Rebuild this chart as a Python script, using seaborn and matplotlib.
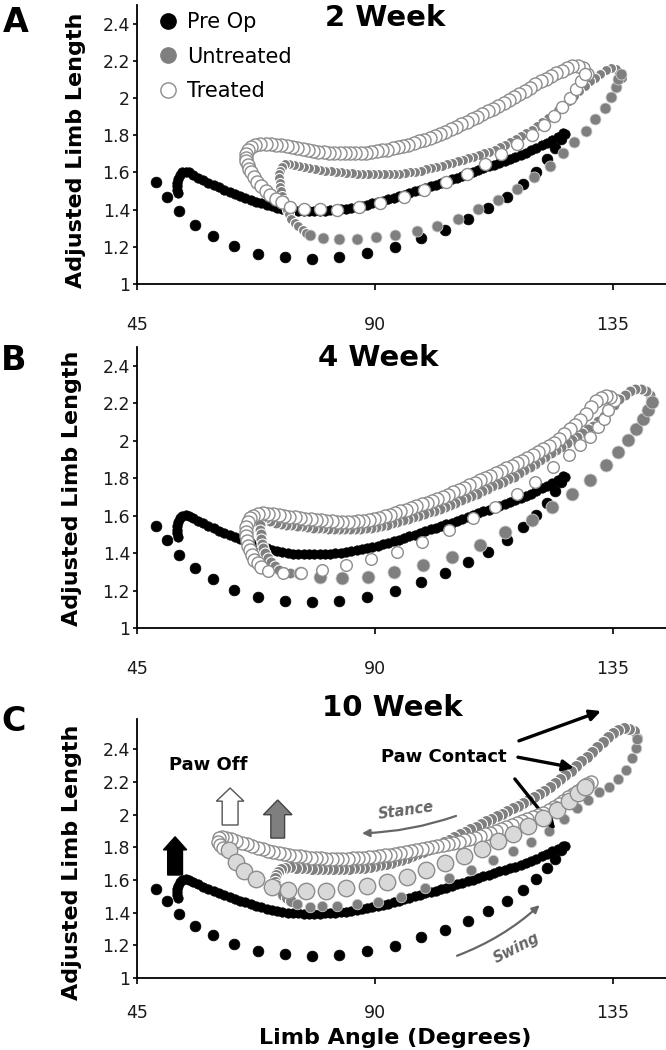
import matplotlib
matplotlib.use("Agg")
import matplotlib.pyplot as plt
from matplotlib.lines import Line2D
from matplotlib.patches import FancyArrow
from matplotlib.ticker import FuncFormatter
import seaborn as sns

# ---------------- data (limb angle, adjusted limb length) ----------------
y_ticks = [1, 1.2, 1.4, 1.6, 1.8, 2, 2.2, 2.4]
x_ticks = [45, 90, 135]
week_titles = ["2 Week", "4 Week", "10 Week"]
panel_letters = ["A", "B", "C"]
legend_labels = ["Pre Op", "Untreated", "Treated"]

# Pre Op (same trace in all three panels)
pre_swing = [(48.6, 1.547), (50.6, 1.47), (53.0, 1.39), (55.9, 1.32), (59.4, 1.26), (63.3, 1.205),
             (67.9, 1.163), (72.9, 1.145), (78.0, 1.137), (83.2, 1.143), (88.4, 1.165), (93.7, 1.198),
             (98.6, 1.248), (103.2, 1.292), (107.5, 1.35), (111.4, 1.408), (114.9, 1.47), (117.9, 1.54),
             (120.4, 1.605), (122.5, 1.67), (124.1, 1.73), (125.2, 1.78)]
pre_stance = [(125.9, 1.805), (125.5, 1.81), (124.5, 1.79), (123.5, 1.775), (122.5, 1.76), (121.5, 1.745),
              (120.5, 1.73), (119.5, 1.718), (118.5, 1.705), (117.5, 1.693), (116.5, 1.682), (115.5, 1.672),
              (114.5, 1.662), (113.5, 1.652), (112.5, 1.642), (111.5, 1.632), (110.5, 1.622), (109.5, 1.612),
              (108.5, 1.602), (107.5, 1.592), (106.5, 1.582), (105.5, 1.572), (104.5, 1.562), (103.5, 1.553),
              (102.5, 1.544), (101.5, 1.535), (100.5, 1.526), (99.5, 1.517), (98.5, 1.508), (97.5, 1.499),
              (96.5, 1.49), (95.5, 1.481), (94.5, 1.472), (93.5, 1.463), (92.5, 1.455), (91.5, 1.447),
              (90.5, 1.44), (89.5, 1.433), (88.5, 1.426), (87.5, 1.42), (86.5, 1.415), (85.5, 1.41),
              (84.5, 1.406), (83.5, 1.402), (82.5, 1.399), (81.5, 1.397), (80.5, 1.395), (79.5, 1.394),
              (78.5, 1.393), (77.5, 1.393), (76.5, 1.394), (75.5, 1.395), (74.5, 1.397), (73.5, 1.40),
              (72.5, 1.405), (71.5, 1.41), (70.5, 1.418), (69.5, 1.425), (68.5, 1.433), (67.5, 1.442),
              (66.5, 1.452), (65.5, 1.462), (64.5, 1.473), (63.5, 1.484), (62.5, 1.495), (61.5, 1.507),
              (60.5, 1.519), (59.5, 1.532), (58.5, 1.545), (57.5, 1.558), (56.5, 1.572), (55.5, 1.588),
              (54.8, 1.60), (54.2, 1.605), (53.6, 1.60), (53.1, 1.585), (52.7, 1.565), (52.5, 1.545),
              (52.5, 1.525), (52.6, 1.505), (52.8, 1.488)]

# 2 week
wk2_untreated_stance = [(136.6, 2.11), (136.2, 2.14), (135.5, 2.155), (134.6, 2.16), (133.6, 2.15), (132.6, 2.13),
                        (131.6, 2.11), (130.6, 2.09), (129.6, 2.065), (128.6, 2.04), (127.6, 2.012), (126.6, 1.985),
                        (125.6, 1.96), (124.6, 1.935), (123.6, 1.91), (122.6, 1.89), (121.6, 1.87), (120.6, 1.85),
                        (119.6, 1.83), (118.6, 1.812), (117.6, 1.795), (116.6, 1.778), (115.6, 1.762), (114.6, 1.748),
                        (113.6, 1.735), (112.6, 1.723), (111.6, 1.712), (110.6, 1.702), (109.6, 1.693), (108.6, 1.684),
                        (107.6, 1.675), (106.6, 1.667), (105.6, 1.659), (104.6, 1.651), (103.6, 1.643), (102.6, 1.636),
                        (101.6, 1.629), (100.6, 1.622), (99.6, 1.616), (98.6, 1.61), (97.6, 1.605), (96.6, 1.60),
                        (95.6, 1.597), (94.6, 1.594), (93.6, 1.592), (92.6, 1.59), (91.6, 1.589), (90.6, 1.589),
                        (89.6, 1.589), (88.6, 1.59), (87.6, 1.591), (86.6, 1.593), (85.6, 1.595), (84.6, 1.597),
                        (83.6, 1.60), (82.6, 1.603), (81.6, 1.606), (80.6, 1.61), (79.6, 1.614), (78.6, 1.618),
                        (77.6, 1.623), (76.6, 1.628), (75.6, 1.634), (74.6, 1.64), (73.7, 1.645), (73.0, 1.643),
                        (72.5, 1.63), (72.1, 1.61), (71.9, 1.59), (71.9, 1.57), (72.0, 1.545), (72.1, 1.52),
                        (72.3, 1.50), (72.5, 1.475), (72.7, 1.45), (73.0, 1.425), (73.3, 1.40), (73.7, 1.375),
                        (74.2, 1.352), (74.8, 1.33), (75.5, 1.31), (76.3, 1.29), (77.0, 1.275)]
wk2_untreated_swing = [(77.7, 1.262), (80.2, 1.25), (83.1, 1.242), (86.6, 1.242), (90.1, 1.252), (93.8, 1.262),
                       (97.9, 1.287), (101.8, 1.31), (105.7, 1.351), (109.5, 1.403), (113.3, 1.454), (116.9, 1.512),
                       (120.1, 1.578), (123.1, 1.637), (125.5, 1.702), (127.7, 1.765), (129.8, 1.825), (131.6, 1.886),
                       (133.4, 1.945), (134.6, 2.007), (135.5, 2.06), (136.0, 2.10), (136.4, 2.13)]
wk2_treated_stance = [(130.0, 2.13), (129.3, 2.16), (128.3, 2.17), (127.3, 2.17), (126.3, 2.16), (125.3, 2.148),
                      (124.3, 2.135), (123.3, 2.12), (122.3, 2.105), (121.3, 2.09), (120.3, 2.073), (119.3, 2.056),
                      (118.3, 2.04), (117.3, 2.023), (116.3, 2.006), (115.3, 1.99), (114.3, 1.973), (113.3, 1.957),
                      (112.3, 1.942), (111.3, 1.928), (110.3, 1.914), (109.3, 1.90), (108.3, 1.886), (107.3, 1.872),
                      (106.3, 1.858), (105.3, 1.845), (104.3, 1.832), (103.3, 1.82), (102.3, 1.808), (101.3, 1.797),
                      (100.3, 1.786), (99.3, 1.776), (98.3, 1.767), (97.3, 1.758), (96.3, 1.75), (95.3, 1.742),
                      (94.3, 1.735), (93.3, 1.729), (92.3, 1.723), (91.3, 1.718), (90.3, 1.714), (89.3, 1.71),
                      (88.3, 1.707), (87.3, 1.705), (86.3, 1.703), (85.3, 1.702), (84.3, 1.702), (83.3, 1.703),
                      (82.3, 1.704), (81.3, 1.706), (80.3, 1.709), (79.3, 1.712), (78.3, 1.716), (77.3, 1.72),
                      (76.3, 1.725), (75.3, 1.73), (74.3, 1.735), (73.3, 1.74), (72.3, 1.745), (71.3, 1.75),
                      (70.3, 1.753), (69.3, 1.755), (68.3, 1.755), (67.4, 1.75), (66.6, 1.738), (66.0, 1.72),
                      (65.7, 1.70), (65.6, 1.68), (65.7, 1.66), (65.9, 1.64), (66.2, 1.62), (66.6, 1.60),
                      (67.1, 1.575), (67.7, 1.55), (68.4, 1.525), (69.3, 1.50), (70.2, 1.478), (71.2, 1.458),
                      (72.4, 1.44)]
wk2_treated_swing = [(73.9, 1.412), (76.5, 1.402), (79.6, 1.402), (82.8, 1.398), (86.9, 1.412), (91.0, 1.434),
                     (95.4, 1.467), (99.3, 1.503), (103.5, 1.547), (107.3, 1.592), (110.8, 1.646), (113.9, 1.699),
                     (116.9, 1.753), (119.7, 1.803), (121.9, 1.855), (123.8, 1.904), (125.4, 1.953), (126.8, 2.0),
                     (128.0, 2.047), (129.0, 2.09), (129.6, 2.13)]

# 4 week
wk4_untreated_stance = [(142.0, 2.245), (141.2, 2.265), (140.2, 2.275), (139.2, 2.275), (138.2, 2.265), (137.2, 2.245),
                        (136.2, 2.22), (135.2, 2.19), (134.2, 2.16), (133.2, 2.13), (132.2, 2.105), (131.2, 2.08),
                        (130.2, 2.06), (129.2, 2.04), (128.2, 2.022), (127.2, 2.004), (126.2, 1.986), (125.2, 1.968),
                        (124.2, 1.95), (123.2, 1.932), (122.2, 1.914), (121.2, 1.896), (120.2, 1.878), (119.2, 1.86),
                        (118.2, 1.842), (117.2, 1.825), (116.2, 1.808), (115.2, 1.795), (114.2, 1.782), (113.2, 1.769),
                        (112.2, 1.756), (111.2, 1.743), (110.2, 1.73), (109.2, 1.718), (108.2, 1.706), (107.2, 1.694),
                        (106.2, 1.682), (105.2, 1.67), (104.2, 1.658), (103.2, 1.646), (102.2, 1.636), (101.2, 1.627),
                        (100.2, 1.618), (99.2, 1.609), (98.2, 1.60), (97.2, 1.592), (96.2, 1.584), (95.2, 1.576),
                        (94.2, 1.568), (93.2, 1.56), (92.2, 1.552), (91.2, 1.545), (90.2, 1.539), (89.2, 1.535),
                        (88.2, 1.532), (87.2, 1.53), (86.2, 1.529), (85.2, 1.528), (84.2, 1.528), (83.2, 1.528),
                        (82.2, 1.529), (81.2, 1.53), (80.2, 1.532), (79.2, 1.534), (78.2, 1.536), (77.2, 1.539),
                        (76.2, 1.542), (75.2, 1.545), (74.2, 1.548), (73.2, 1.552), (72.2, 1.557), (71.2, 1.563),
                        (70.2, 1.572), (69.4, 1.585), (68.8, 1.59), (68.4, 1.575), (68.3, 1.55), (68.3, 1.525),
                        (68.4, 1.50), (68.5, 1.475), (68.6, 1.45), (68.9, 1.425), (69.2, 1.40), (69.7, 1.375),
                        (70.3, 1.35), (71.0, 1.33), (71.9, 1.312), (72.9, 1.30), (74.0, 1.293)]
wk4_untreated_swing = [(75.8, 1.292), (79.6, 1.274), (83.7, 1.265), (88.6, 1.274), (93.6, 1.30), (99.1, 1.336),
                       (104.5, 1.38), (109.8, 1.443), (114.6, 1.514), (119.6, 1.576), (123.4, 1.647), (127.2, 1.718),
                       (130.6, 1.789), (133.7, 1.869), (135.9, 1.94), (137.8, 2.003), (139.4, 2.065), (140.7, 2.118),
                       (141.6, 2.163), (142.3, 2.207)]
wk4_treated_stance = [(135.2, 2.215), (134.5, 2.235), (133.6, 2.24), (132.7, 2.23), (131.8, 2.21), (130.8, 2.18),
                      (129.8, 2.145), (128.8, 2.11), (127.8, 2.085), (126.8, 2.06), (125.8, 2.035), (124.8, 2.01),
                      (123.8, 1.99), (122.8, 1.97), (121.8, 1.953), (120.8, 1.937), (119.8, 1.921), (118.8, 1.906),
                      (117.8, 1.892), (116.8, 1.879), (115.8, 1.866), (114.8, 1.853), (113.8, 1.84), (112.8, 1.827),
                      (111.8, 1.814), (110.8, 1.801), (109.8, 1.789), (108.8, 1.776), (107.8, 1.763), (106.8, 1.75),
                      (105.8, 1.737), (104.8, 1.724), (103.8, 1.711), (102.8, 1.70), (101.8, 1.69), (100.8, 1.68),
                      (99.8, 1.67), (98.8, 1.66), (97.8, 1.65), (96.8, 1.64), (95.8, 1.631), (94.8, 1.622),
                      (93.8, 1.613), (92.8, 1.604), (91.8, 1.596), (90.8, 1.588), (89.8, 1.582), (88.8, 1.577),
                      (87.8, 1.573), (86.8, 1.57), (85.8, 1.568), (84.8, 1.567), (83.8, 1.567), (82.8, 1.568),
                      (81.8, 1.57), (80.8, 1.572), (79.8, 1.575), (78.8, 1.578), (77.8, 1.581), (76.8, 1.584),
                      (75.8, 1.587), (74.8, 1.59), (73.8, 1.594), (72.8, 1.598), (71.8, 1.602), (70.8, 1.606),
                      (69.8, 1.61), (68.8, 1.612), (67.8, 1.61), (67.0, 1.60), (66.3, 1.585), (65.9, 1.565),
                      (65.7, 1.54), (65.6, 1.515), (65.7, 1.49), (65.8, 1.465), (66.0, 1.44), (66.3, 1.415),
                      (66.7, 1.39), (67.2, 1.365), (67.8, 1.345), (68.5, 1.325)]
wk4_treated_swing = [(69.7, 1.305), (72.6, 1.296), (76.0, 1.296), (79.9, 1.311), (84.6, 1.334), (89.2, 1.369),
                     (94.1, 1.407), (98.9, 1.46), (103.9, 1.523), (108.6, 1.585), (112.7, 1.647), (116.8, 1.718),
                     (120.2, 1.78), (123.7, 1.86), (126.6, 1.923), (128.8, 1.976), (130.6, 2.02), (132.2, 2.074),
                     (133.2, 2.118), (134.1, 2.163)]

# 10 week
wk10_untreated_stance = [(139.6, 2.47), (139.0, 2.51), (138.0, 2.525), (137.0, 2.53), (136.0, 2.52), (135.0, 2.50),
                         (134.0, 2.475), (133.0, 2.445), (132.0, 2.415), (131.0, 2.385), (130.0, 2.355), (129.0, 2.325),
                         (128.0, 2.295), (127.0, 2.265), (126.0, 2.24), (125.0, 2.215), (124.0, 2.19), (123.0, 2.168),
                         (122.0, 2.146), (121.0, 2.125), (120.0, 2.105), (119.0, 2.087), (118.0, 2.07), (117.0, 2.054),
                         (116.0, 2.038), (115.0, 2.022), (114.0, 2.006), (113.0, 1.99), (112.0, 1.974), (111.0, 1.958),
                         (110.0, 1.942), (109.0, 1.926), (108.0, 1.91), (107.0, 1.894), (106.0, 1.878), (105.0, 1.862),
                         (104.0, 1.846), (103.0, 1.83), (102.0, 1.815), (101.0, 1.80), (100.0, 1.786), (99.0, 1.772),
                         (98.0, 1.759), (97.0, 1.747), (96.0, 1.735), (95.0, 1.724), (94.0, 1.714), (93.0, 1.705),
                         (92.0, 1.697), (91.0, 1.69), (90.0, 1.684), (89.0, 1.679), (88.0, 1.675), (87.0, 1.672),
                         (86.0, 1.67), (85.0, 1.668), (84.0, 1.667), (83.0, 1.666), (82.0, 1.666), (81.0, 1.666),
                         (80.0, 1.667), (79.0, 1.668), (78.0, 1.669), (77.0, 1.67), (76.0, 1.672), (75.0, 1.674),
                         (74.0, 1.676), (73.0, 1.675), (72.2, 1.665), (71.6, 1.65), (71.2, 1.63), (71.0, 1.61),
                         (71.0, 1.59), (71.2, 1.57), (71.5, 1.55), (72.0, 1.53), (72.6, 1.51), (73.3, 1.49),
                         (74.1, 1.47)]
wk10_untreated_swing = [(75.2, 1.45), (77.7, 1.437), (80.0, 1.44), (82.8, 1.44), (86.5, 1.45), (90.6, 1.467),
                        (95.0, 1.495), (99.5, 1.548), (103.9, 1.61), (108.2, 1.66), (112.3, 1.72), (116.0, 1.775),
                        (119.5, 1.83), (122.9, 1.90), (125.8, 1.975), (128.2, 2.04), (130.3, 2.09), (132.3, 2.135),
                        (134.2, 2.17), (135.9, 2.215), (137.4, 2.27), (138.6, 2.345), (139.3, 2.41), (139.6, 2.46)]
wk10_treated_stance = [(130.8, 2.20), (130.0, 2.185), (129.2, 2.165), (128.3, 2.145), (127.4, 2.125), (126.5, 2.105),
                       (125.6, 2.085), (124.7, 2.065), (123.8, 2.045), (122.8, 2.025), (121.8, 2.008), (120.8, 1.995),
                       (119.8, 1.982), (118.8, 1.97), (117.8, 1.958), (116.8, 1.946), (115.8, 1.934), (114.8, 1.922),
                       (113.8, 1.91), (112.8, 1.899), (111.8, 1.888), (110.8, 1.878), (109.8, 1.868), (108.8, 1.859),
                       (107.8, 1.85), (106.8, 1.842), (105.8, 1.834), (104.8, 1.826), (103.8, 1.819), (102.8, 1.812),
                       (101.8, 1.806), (100.8, 1.80), (99.8, 1.794), (98.8, 1.788), (97.8, 1.782), (96.8, 1.776),
                       (95.8, 1.77), (94.8, 1.765), (93.8, 1.76), (92.8, 1.755), (91.8, 1.75), (90.8, 1.746),
                       (89.8, 1.742), (88.8, 1.739), (87.8, 1.736), (86.8, 1.734), (85.8, 1.732), (84.8, 1.731),
                       (83.8, 1.73), (82.8, 1.73), (81.8, 1.73), (80.8, 1.731), (79.8, 1.732), (78.8, 1.734),
                       (77.8, 1.737), (76.8, 1.74), (75.8, 1.744), (74.8, 1.748), (73.8, 1.753), (72.8, 1.758),
                       (71.8, 1.764), (70.8, 1.771), (69.8, 1.779), (68.8, 1.788), (67.8, 1.798), (66.8, 1.808),
                       (65.8, 1.818), (64.8, 1.828), (63.8, 1.838), (62.8, 1.848), (61.9, 1.856), (61.1, 1.862),
                       (60.5, 1.855), (60.3, 1.835), (60.6, 1.812), (61.3, 1.795)]
wk10_treated_swing = [(62.3, 1.78), (63.7, 1.71), (65.3, 1.655), (67.5, 1.605), (70.5, 1.558), (73.5, 1.538),
                      (77.0, 1.53), (80.7, 1.533), (84.5, 1.549), (88.4, 1.564), (92.2, 1.585), (96.0, 1.62),
                      (99.7, 1.662), (103.3, 1.704), (106.8, 1.748), (110.3, 1.79), (113.3, 1.836), (116.1, 1.88),
                      (119.0, 1.93), (121.8, 1.98), (124.4, 2.03), (126.6, 2.08), (128.3, 2.13), (129.6, 2.17)]

# ---------------- styling ----------------
sns.set_theme(style="white")
plt.rcParams["font.family"] = ["DejaVu Sans"]
plt.rcParams["text.color"] = "black"

GRAY = "#7f7f7f"
RING = "#8c8c8c"
LIGHT = "#d9d9d9"


def dots(ax, pts, size, face, edge, lw, z):
    xs = [p[0] for p in pts]
    ys = [p[1] for p in pts]
    sns.scatterplot(x=xs, y=ys, ax=ax, s=size, color=face, edgecolor=edge,
                    linewidth=lw, zorder=z, legend=False)


def style_axis(ax, ytop, xpad):
    ax.set_xlim(45, 145)
    ax.set_ylim(1, ytop)
    ax.set_xticks(x_ticks)
    ax.set_yticks(y_ticks)
    ax.yaxis.set_major_formatter(FuncFormatter(lambda v, _: f"{v:g}"))
    for s in ["top", "right"]:
        ax.spines[s].set_visible(False)
    for s in ["left", "bottom"]:
        ax.spines[s].set_color("black")
        ax.spines[s].set_linewidth(1.3)
    ax.tick_params(axis="x", bottom=True, direction="out", length=4, width=1.2,
                   pad=xpad, labelsize=12.5, colors="black", labelcolor="#1a1a1a")
    ax.tick_params(axis="y", left=True, direction="out", length=3, width=1.2,
                   pad=2, labelsize=12.5, colors="black", labelcolor="#1a1a1a")
    ax.set_xlabel("")
    ax.set_ylabel("")


fig = plt.figure(figsize=(6.66, 10.5), dpi=100)
ax_a = fig.add_axes([0.2057, 0.7295, 0.7943, 0.2657])
ax_b = fig.add_axes([0.2057, 0.4019, 0.7943, 0.2676])
ax_c = fig.add_axes([0.2057, 0.0686, 0.7943, 0.2467])

for ax in (ax_a, ax_b, ax_c):
    dots(ax, pre_stance, 46, "black", "black", 0.5, 2)
    dots(ax, pre_swing, 60, "black", "black", 0.5, 2)

# 2 week
dots(ax_a, wk2_untreated_stance, 52, GRAY, "white", 0.8, 3)
dots(ax_a, wk2_untreated_swing, 63, GRAY, "#cfcfcf", 0.6, 3)
dots(ax_a, wk2_treated_stance, 88, "white", RING, 1.0, 4)
dots(ax_a, wk2_treated_swing, 75, "white", RING, 1.0, 4)

# 4 week
dots(ax_b, wk4_untreated_stance, 63, GRAY, "white", 0.8, 3)
dots(ax_b, wk4_untreated_swing, 88, GRAY, "#cfcfcf", 0.6, 3)
dots(ax_b, wk4_treated_stance, 88, "white", RING, 1.0, 4)
dots(ax_b, wk4_treated_swing, 70, "white", RING, 1.0, 4)

# 10 week
dots(ax_c, wk10_untreated_stance, 75, GRAY, "white", 0.8, 3)
dots(ax_c, wk10_untreated_swing, 57, GRAY, "#cfcfcf", 0.6, 3)
dots(ax_c, wk10_treated_stance, 88, "white", RING, 1.0, 4)
dots(ax_c, wk10_treated_swing, 140, LIGHT, RING, 1.0, 4)

style_axis(ax_a, 2.5, 19)
style_axis(ax_b, 2.5, 19)
style_axis(ax_c, 2.585, 15)

# titles, panel letters, axis labels
for (xc, yc), title in zip([(0.578, 0.983), (0.568, 0.659), (0.589, 0.326)], week_titles):
    fig.text(xc, yc, title, fontsize=21, fontweight="bold", ha="center", va="center")
for (xc, yc), letter in zip([(0.024, 0.979), (0.021, 0.657), (0.020, 0.313)], panel_letters):
    fig.text(xc, yc, letter, fontsize=24, fontweight="bold", ha="center", va="center")
for (xc, yc) in [(0.114, 0.857), (0.108, 0.535), (0.108, 0.179)]:
    fig.text(xc, yc, "Adjusted Limb Length", fontsize=16, fontweight="bold",
             rotation=90, ha="center", va="center")
fig.text(0.593, 0.011, "Limb Angle (Degrees)", fontsize=16, fontweight="bold",
         ha="center", va="center")

# legend (panel A)
handles = [
    Line2D([], [], marker="o", linestyle="none", markersize=11, markerfacecolor="black", markeredgecolor="black"),
    Line2D([], [], marker="o", linestyle="none", markersize=11, markerfacecolor=GRAY, markeredgecolor=GRAY),
    Line2D([], [], marker="o", linestyle="none", markersize=11, markerfacecolor="white", markeredgecolor=RING),
]
ax_a.legend(handles, legend_labels, loc="upper left", bbox_to_anchor=(0.2366, 0.9886),
            bbox_transform=fig.transFigure, frameon=False, borderpad=0, borderaxespad=0,
            handlelength=1.0, handletextpad=0.4, labelspacing=0.7, fontsize=15)

# panel C annotations
ax_c.text(58.4, 2.303, "Paw Off", fontsize=13, fontweight="bold", ha="center", va="center")
ax_c.text(103.0, 2.352, "Paw Contact", fontsize=13, fontweight="bold", ha="center", va="center")
ax_c.annotate("", xy=(133.2, 2.639), xytext=(116.7, 2.445), annotation_clip=False,
              arrowprops=dict(arrowstyle="-|>", color="black", lw=2.4, mutation_scale=16, clip_on=False))
ax_c.annotate("", xy=(128.1, 2.283), xytext=(116.5, 2.354), annotation_clip=False,
              arrowprops=dict(arrowstyle="-|>", color="black", lw=2.4, mutation_scale=16))
ax_c.annotate("", xy=(124.4, 1.895), xytext=(116.1, 2.231), annotation_clip=False,
              arrowprops=dict(arrowstyle="-|>", color="black", lw=2.4, mutation_scale=16))

# paw-off block arrows
ax_c.add_patch(FancyArrow(52.2, 1.63, 0, 0.234, width=2.8, head_width=4.4, head_length=0.08,
                          length_includes_head=True, facecolor="black", edgecolor="black", zorder=5))
ax_c.add_patch(FancyArrow(62.6, 1.936, 0, 0.226, width=3.0, head_width=5.2, head_length=0.08,
                          length_includes_head=True, facecolor="white", edgecolor="#555555", lw=1.0, zorder=5))
ax_c.add_patch(FancyArrow(71.6, 1.856, 0, 0.233, width=2.6, head_width=5.4, head_length=0.09,
                          length_includes_head=True, facecolor=GRAY, edgecolor="#444444", lw=1.0, zorder=5))

# stance / swing cues
ax_c.text(95.9, 2.021, "Stance", fontsize=10.5, fontweight="bold", style="italic", color="#666666",
          rotation=8, ha="center", va="center")
ax_c.annotate("", xy=(87.0, 1.885), xytext=(105.8, 1.997),
              arrowprops=dict(arrowstyle="-|>", color="#666666", lw=1.6, mutation_scale=11,
                              connectionstyle="arc3,rad=-0.08"))
ax_c.text(116.7, 1.183, "Swing", fontsize=10.5, fontweight="bold", style="italic", color="#666666",
          rotation=27, ha="center", va="center")
ax_c.annotate("", xy=(121.5, 1.457), xytext=(105.0, 1.13),
              arrowprops=dict(arrowstyle="-|>", color="#666666", lw=1.6, mutation_scale=11,
                              connectionstyle="arc3,rad=0.1"))

fig.savefig("out.png", dpi=100)
